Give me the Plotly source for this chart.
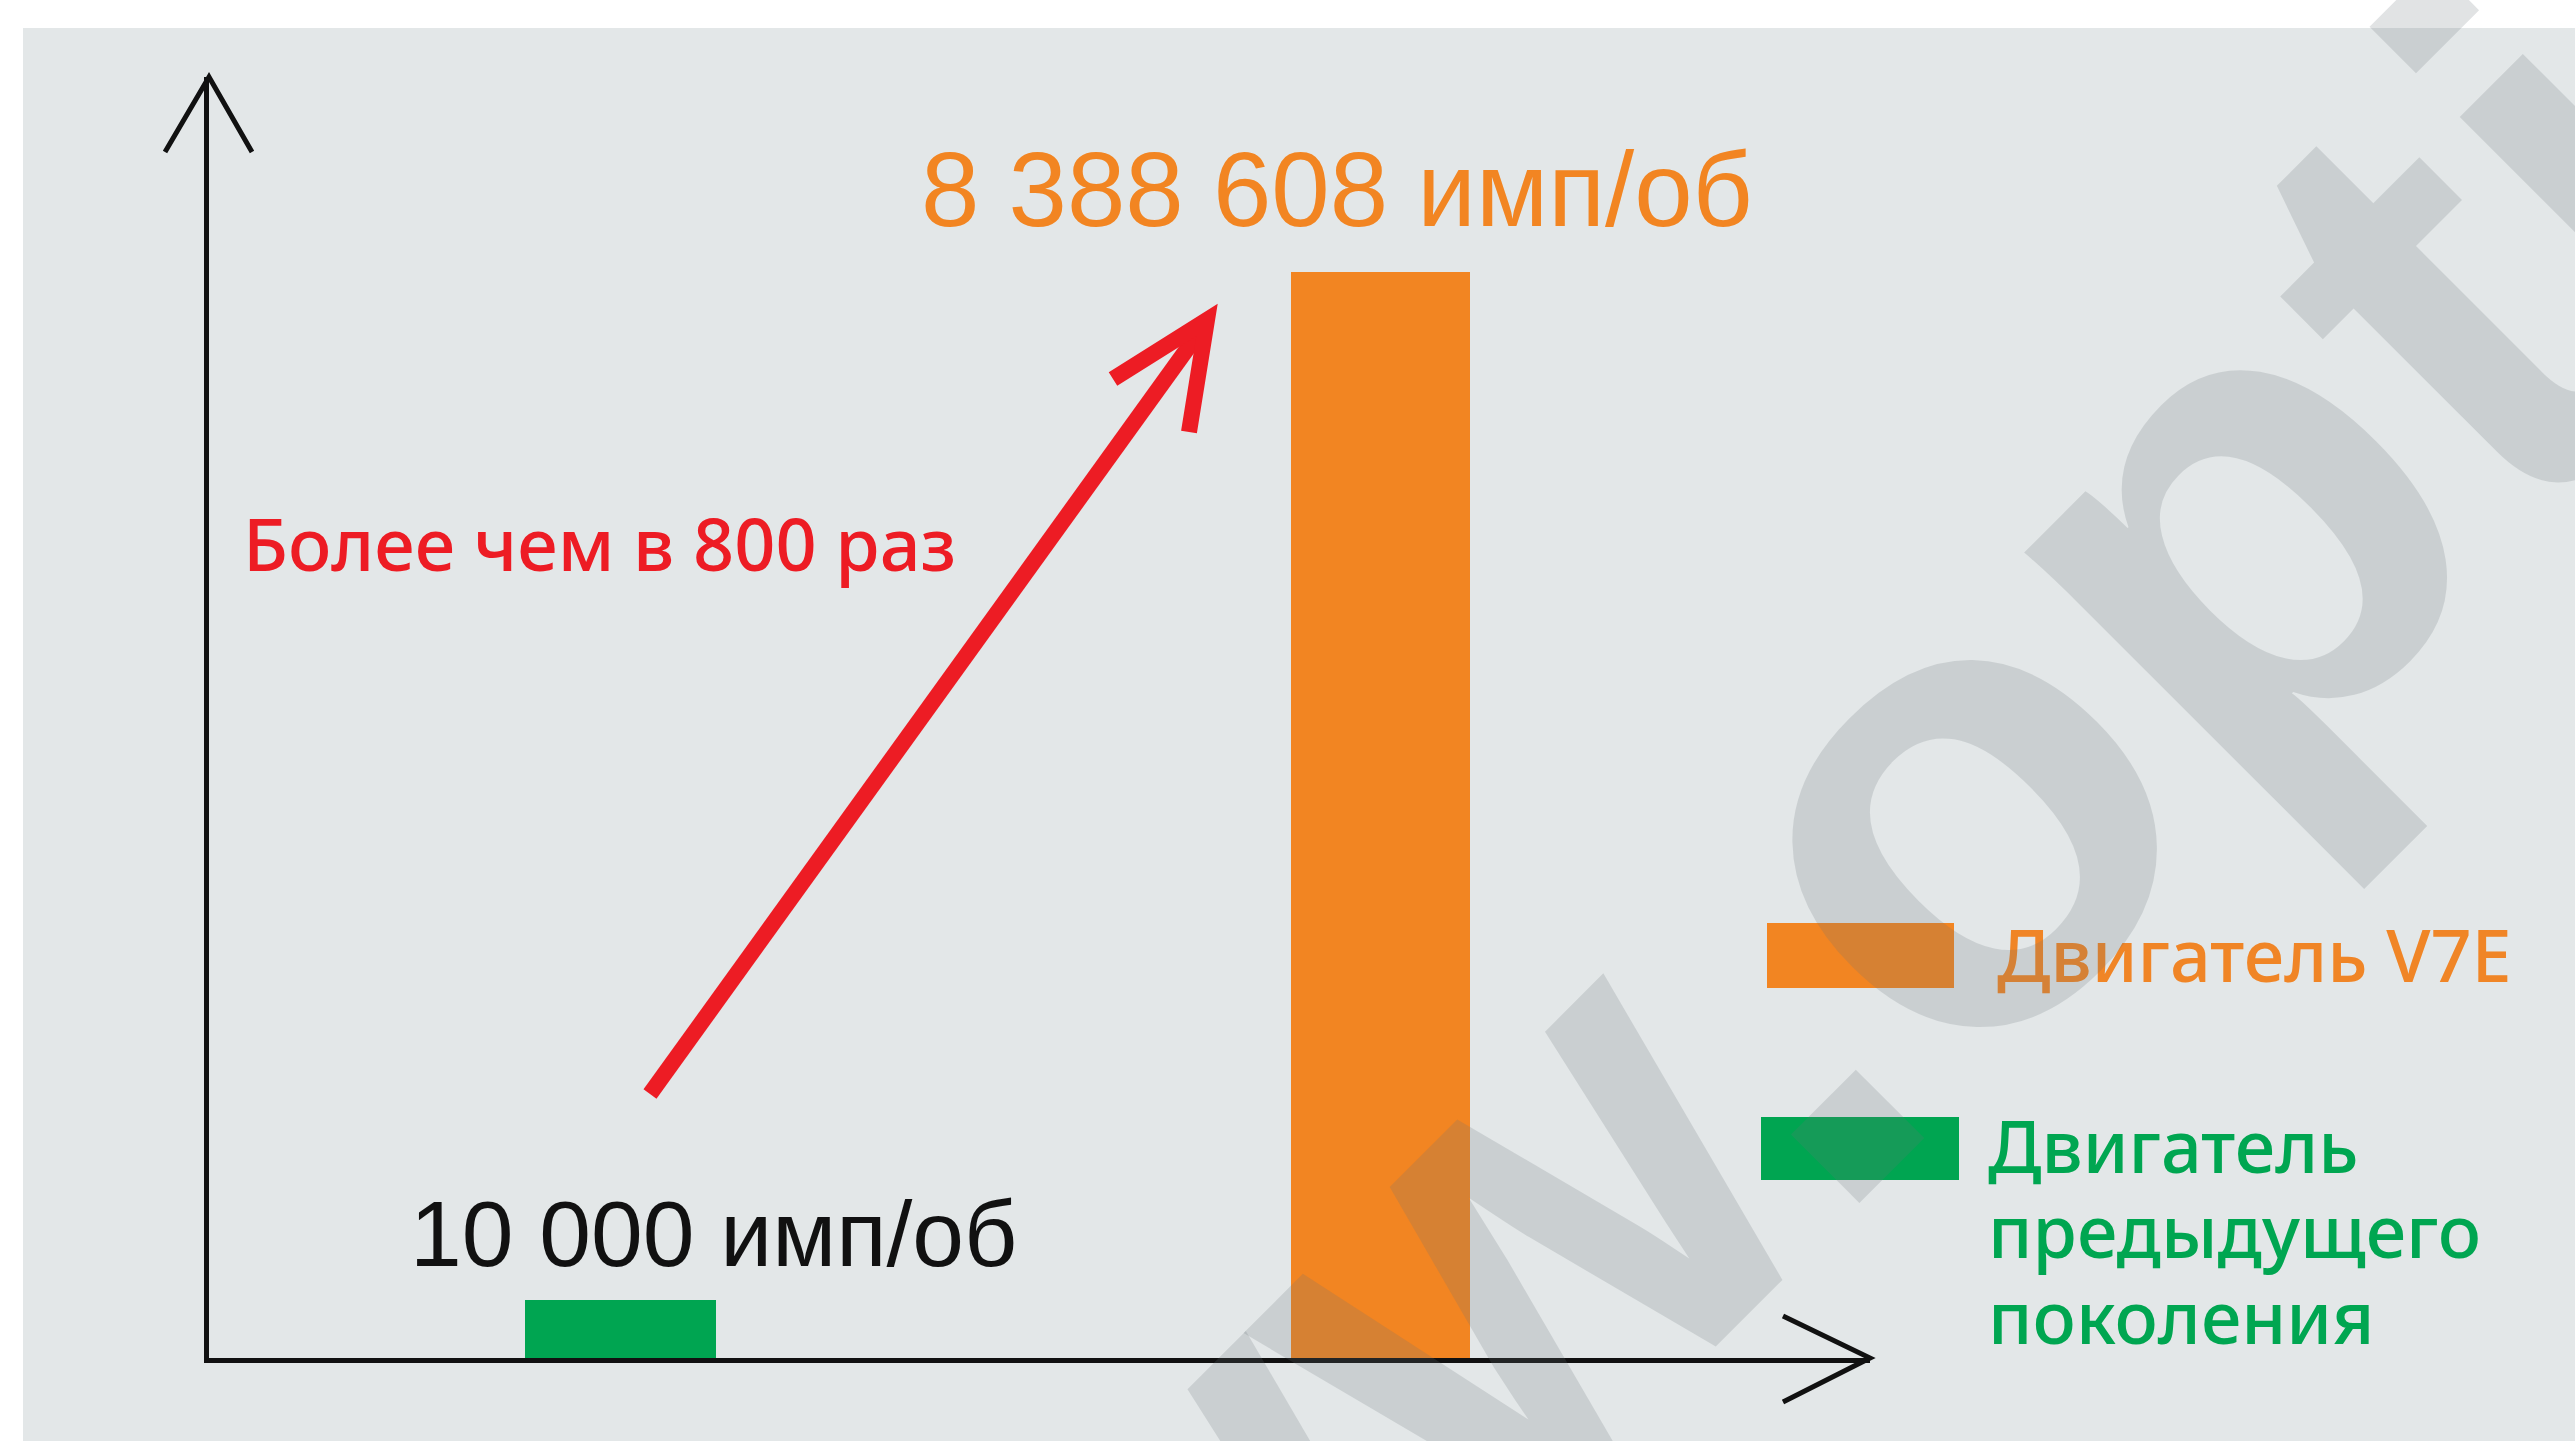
import math
import plotly.graph_objects as go

W, H = 2575, 1441

# ---- data ----
categories = ["Двигатель предыдущего поколения", "Двигатель V7E"]
values = [10000, 8388608]
unit_label = "имп/об"
bar_colors = ["#00A551", "#F28522"]
value_label_colors = ["#111111", "#F28522"]
legend_lines = [["Двигатель", "предыдущего", "поколения"], ["Двигатель V7E"]]
legend_text_colors = ["#00A651", "#F08526"]
ratio_text = "Более чем в 800 раз"
watermark_text = "www.opti"

# ---- styling / layout helpers ----
bar_widths = [0.2513, 0.2355]
label_shift = [(93.5, 66), (-43, 83)]
label_sizes = [93, 105]
BG = "#E3E7E8"
AXIS = "#111111"
RED = "#ED1C24"
HUMANIST = "Noto Sans, Open Sans, sans-serif"


def px(x):
    return x / W


def py(y):
    return 1 - y / H


def path(points):
    return "M " + " L ".join(f"{px(x)},{py(y)}" for x, y in points)


fig = go.Figure()
fig.add_trace(go.Bar(
    x=categories, y=values, width=bar_widths,
    marker=dict(color=bar_colors, line=dict(width=0)),
    showlegend=False, hoverinfo="skip",
))

shapes = []
# page background (white strip top/left)
shapes.append(dict(type="rect", xref="paper", yref="paper", x0=px(23), x1=1, y0=0, y1=py(28),
                   fillcolor=BG, line=dict(width=0), layer="below"))
# axis arrow heads
shapes.append(dict(type="path", xref="paper", yref="paper", path=path([(165, 152), (209, 77), (252, 152)]),
                   line=dict(color=AXIS, width=5), layer="above"))
shapes.append(dict(type="path", xref="paper", yref="paper", path=path([(1783, 1316), (1870, 1358), (1783, 1402)]),
                   line=dict(color=AXIS, width=5), layer="above"))
# red ratio arrow
shapes.append(dict(type="path", xref="paper", yref="paper", path=path([(650, 1094), (1203, 327)]),
                   line=dict(color=RED, width=16), layer="above"))
shapes.append(dict(type="path", xref="paper", yref="paper", path=path([(1113, 379), (1207, 320), (1189, 432)]),
                   line=dict(color=RED, width=16), layer="above"))
# legend swatches (legend order: V7E on top)
swatches = [((1761, 1117), (1959, 1180)), ((1767, 923), (1954, 988))]
for i, ((x0, y0), (x1, y1)) in enumerate(swatches):
    shapes.append(dict(type="rect", xref="paper", yref="paper", x0=px(x0), x1=px(x1), y0=py(y1), y1=py(y0),
                       fillcolor=bar_colors[i], line=dict(width=0), layer="above"))

annotations = []
for i, v in enumerate(values):
    txt = f"{v:,}".replace(",", " ") + " " + unit_label
    annotations.append(dict(
        x=categories[i], y=math.log10(v), xref="x", yref="y", text=txt, showarrow=False,
        xanchor="center", yanchor="middle", xshift=label_shift[i][0], yshift=label_shift[i][1],
        font=dict(family="Liberation Sans, Arial, sans-serif", size=label_sizes[i], color=value_label_colors[i]),
    ))

annotations.append(dict(
    x=px(599), y=py(543), xref="paper", yref="paper", text=ratio_text, showarrow=False,
    xanchor="center", yanchor="middle",
    font=dict(family=HUMANIST, size=72, color=RED, weight=500),
))

legend_pos = [(1986, [1145, 1230, 1316]), (1995, [954])]
for i, lines in enumerate(legend_lines):
    lx, ys = legend_pos[i]
    for line, yy in zip(lines, ys):
        annotations.append(dict(
            x=px(lx), y=py(yy), xref="paper", yref="paper", text=line, showarrow=False,
            xanchor="left", yanchor="middle",
            font=dict(family=HUMANIST, size=72, color=legend_text_colors[i], weight=500),
        ))

# watermark (on top, translucent)
annotations.append(dict(
    x=px(1624), y=py(1123), xref="paper", yref="paper", text=watermark_text, showarrow=False,
    xanchor="center", yanchor="middle", textangle=-45,
    font=dict(family="Liberation Sans, Arial, sans-serif", size=650,
              color="rgba(107,116,122,0.2)", weight="bold"),
))

fig.update_layout(
    width=W, height=H, margin=dict(l=0, r=0, t=0, b=0, pad=0),
    paper_bgcolor="white", plot_bgcolor="rgba(0,0,0,0)",
    shapes=shapes, annotations=annotations, bargap=0,
    xaxis=dict(domain=[px(209), px(1870)], type="category", range=[-0.5414, 1.6441],
               showline=True, linecolor=AXIS, linewidth=5, layer="below traces",
               showgrid=False, zeroline=False, showticklabels=False, ticks="", fixedrange=True),
    yaxis=dict(domain=[py(1358), py(77)], type="log", range=[3.8351, 7.4783],
               showline=True, linecolor=AXIS, linewidth=5, layer="below traces",
               showgrid=False, zeroline=False, showticklabels=False, ticks="", fixedrange=True),
)

fig.write_html("out.html", config={"displayModeBar": False},
               post_script="document.body.style.margin='0';document.body.style.overflow='hidden';")
